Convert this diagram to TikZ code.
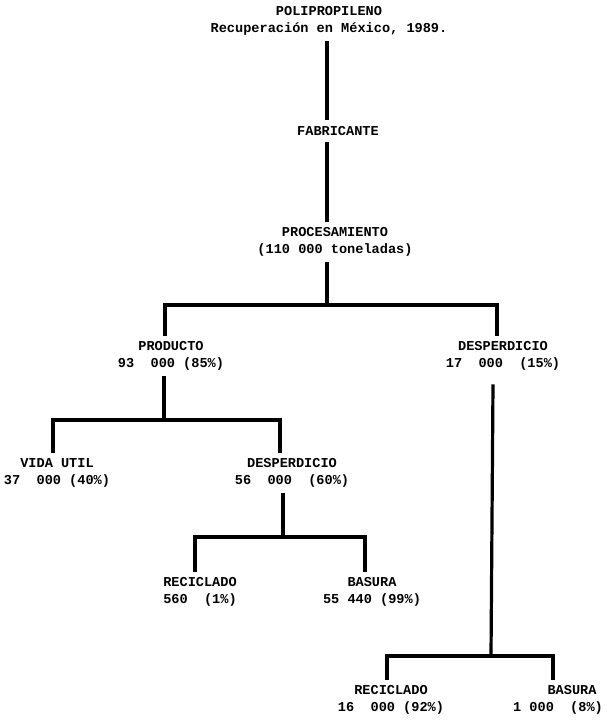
\documentclass[tikz,border=0pt]{standalone}
\usepackage{fontspec}
\setmonofont{Liberation Mono}
\usepackage{tikz}
\usetikzlibrary{positioning, calc}

\begin{document}
\begin{tikzpicture}[x=1pt, y=-1pt,
    txtnode/.style = {align=center, font=\ttfamily\bfseries\fontsize{13.6}{17}\selectfont, inner sep=0pt, outer sep=6pt},
    conn/.style = {draw=black, line width=3.2pt}
]
\useasboundingbox (0,0) rectangle (606,723);

% Nodes
\node (n_title) [txtnode] at (329,21) {POLIPROPILENO\\Recuperación en México, 1989.};
\node (n_fab) [txtnode] at (338,131) {FABRICANTE};
\node (n_proc) [txtnode] at (335,242) {PROCESAMIENTO\\(110 000 toneladas)};

\node (n_prod) [txtnode] at (171,356) {PRODUCTO\\93~~000 (85\%)};
\node (n_desp) [txtnode] at (503,356) {DESPERDICIO\\17~~000~~(15\%)};

\node (n_vida) [txtnode] at (57,473) {VIDA UTIL\\37~~000 (40\%)};
\node (n_desp2) [txtnode] at (292,473) {DESPERDICIO\\56~~000~~(60\%)};

\node (n_rec1) [txtnode] at (200,592) {RECICLADO\\560~~(1\%)};
\node (n_bas1) [txtnode] at (372,592) {BASURA\\55 440 (99\%)};

\node (n_rec2) [txtnode] at (391,700) {RECICLADO\\16~~000 (92\%)};
\node (n_bas2) [txtnode] at (558,700) {\hspace*{28pt}BASURA\\1 000~~(8\%)};

% Branch points
\coordinate (j1) at (327,305);
\coordinate (j2) at (164,420);
\coordinate (j3) at (283,537);
\coordinate (j4) at (491,656);

% Connections
\draw [conn] (n_title.south -| j1) -- (n_fab.north -| j1);
\draw [conn] (n_fab.south -| j1) -- (n_proc.north -| j1);
\draw [conn] (n_proc.south -| j1) -- (j1);
\draw [conn] (j1) -| ([xshift=-6pt]n_prod.north);
\draw [conn] (j1) -| ([xshift=-6pt]n_desp.north);

\draw [conn] ([xshift=-7pt]n_prod.south) -- (j2);
\draw [conn] (j2) -| ([xshift=-4pt]n_vida.north);
\draw [conn] (j2) -| ([xshift=-12pt]n_desp2.north);

\draw [conn] ([xshift=-9pt]n_desp2.south) -- (j3);
\draw [conn] (j3) -| ([xshift=-5pt]n_rec1.north);
\draw [conn] (j3) -| ([xshift=-7pt]n_bas1.north);

\draw [conn] ([xshift=-10pt,yshift=-8pt]n_desp.south) -- (j4);
\draw [conn] (j4) -| ([xshift=-4pt]n_rec2.north);
\draw [conn] (j4) -| ([xshift=-5pt]n_bas2.north);

\end{tikzpicture}
\end{document}
